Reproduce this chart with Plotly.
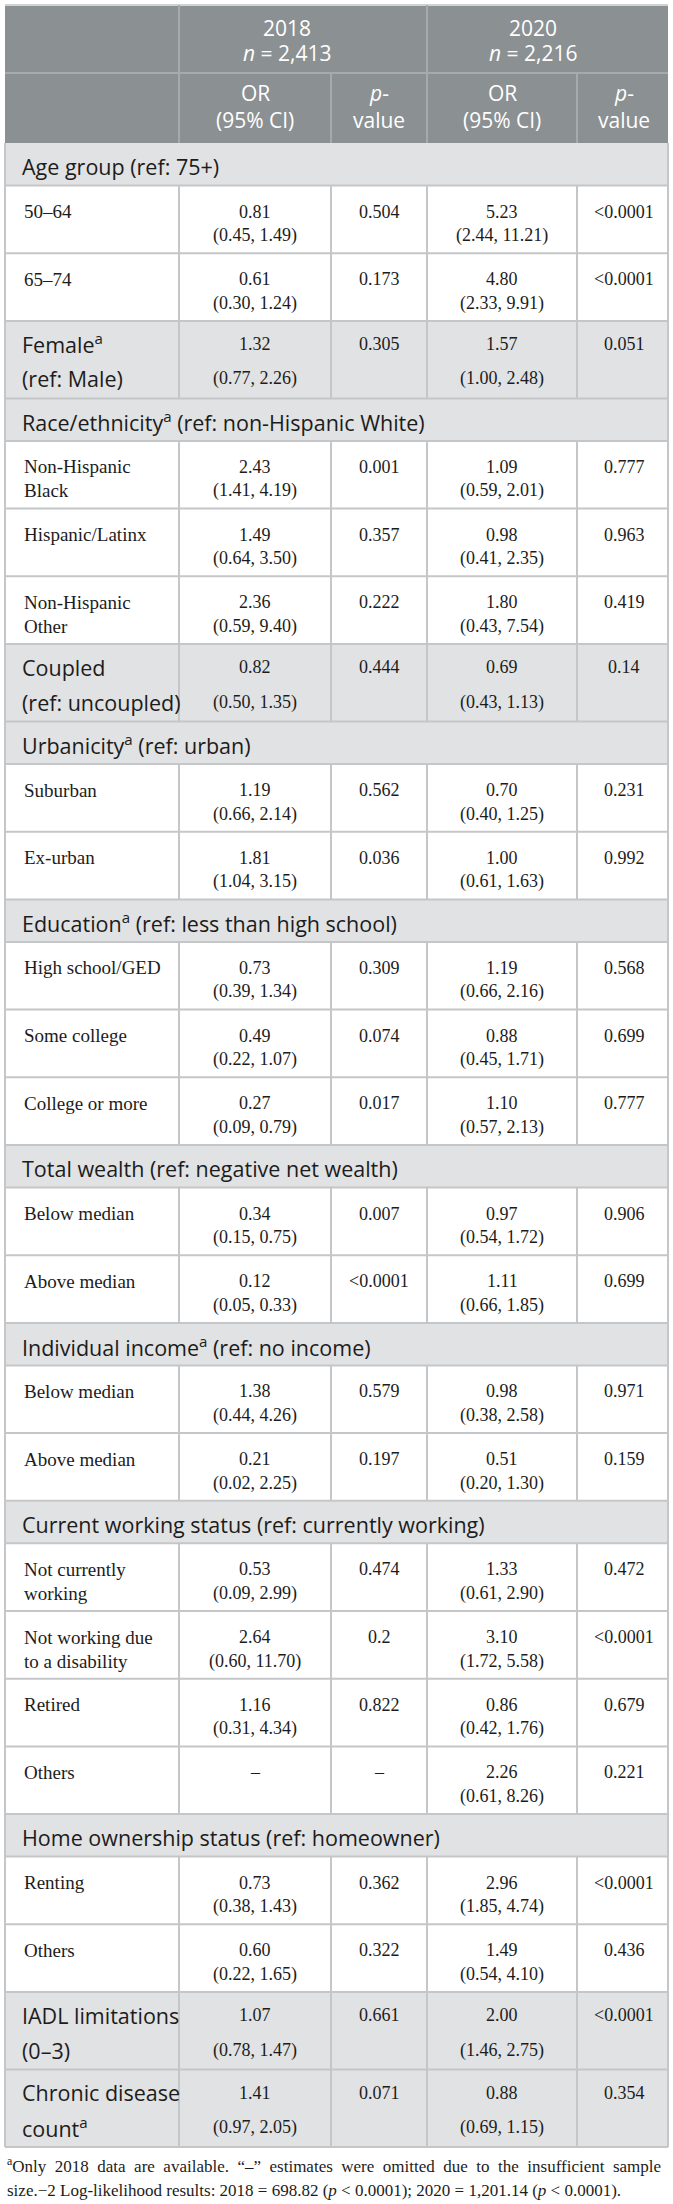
import plotly.graph_objects as go

# table content
row_kinds = ['section', 'item', 'item', 'main',
             'section', 'item', 'item', 'item', 'main',
             'section', 'item', 'item',
             'section', 'item', 'item', 'item',
             'section', 'item', 'item',
             'section', 'item', 'item',
             'section', 'item', 'item', 'item', 'item',
             'section', 'item', 'item',
             'main', 'main']

row_labels = [
    'Age group (ref: 75+)', '50–64', '65–74', 'Female<sup>a</sup><br>(ref: Male)',
    'Race/ethnicity<sup>a</sup> (ref: non-Hispanic White)', 'Non-Hispanic<br>Black',
    'Hispanic/Latinx', 'Non-Hispanic<br>Other', 'Coupled<br>(ref: uncoupled)',
    'Urbanicity<sup>a</sup> (ref: urban)', 'Suburban', 'Ex-urban',
    'Education<sup>a</sup> (ref: less than high school)', 'High school/GED',
    'Some college', 'College or more',
    'Total wealth (ref: negative net wealth)', 'Below median', 'Above median',
    'Individual income<sup>a</sup> (ref: no income)', 'Below median', 'Above median',
    'Current working status (ref: currently working)', 'Not currently<br>working',
    'Not working due<br>to a disability', 'Retired', 'Others',
    'Home ownership status (ref: homeowner)', 'Renting', 'Others',
    'IADL limitations<br>(0–3)', 'Chronic disease<br>count<sup>a</sup>',
]

or_2018 = [None, '0.81', '0.61', '1.32',
           None, '2.43', '1.49', '2.36', '0.82',
           None, '1.19', '1.81',
           None, '0.73', '0.49', '0.27',
           None, '0.34', '0.12',
           None, '1.38', '0.21',
           None, '0.53', '2.64', '1.16', '–',
           None, '0.73', '0.60',
           '1.07', '1.41']
ci_2018 = [None, '(0.45, 1.49)', '(0.30, 1.24)', '(0.77, 2.26)',
           None, '(1.41, 4.19)', '(0.64, 3.50)', '(0.59, 9.40)', '(0.50, 1.35)',
           None, '(0.66, 2.14)', '(1.04, 3.15)',
           None, '(0.39, 1.34)', '(0.22, 1.07)', '(0.09, 0.79)',
           None, '(0.15, 0.75)', '(0.05, 0.33)',
           None, '(0.44, 4.26)', '(0.02, 2.25)',
           None, '(0.09, 2.99)', '(0.60, 11.70)', '(0.31, 4.34)', '',
           None, '(0.38, 1.43)', '(0.22, 1.65)',
           '(0.78, 1.47)', '(0.97, 2.05)']
p_2018 = [None, '0.504', '0.173', '0.305',
          None, '0.001', '0.357', '0.222', '0.444',
          None, '0.562', '0.036',
          None, '0.309', '0.074', '0.017',
          None, '0.007', '&lt;0.0001',
          None, '0.579', '0.197',
          None, '0.474', '0.2', '0.822', '–',
          None, '0.362', '0.322',
          '0.661', '0.071']

or_2020 = [None, '5.23', '4.80', '1.57',
           None, '1.09', '0.98', '1.80', '0.69',
           None, '0.70', '1.00',
           None, '1.19', '0.88', '1.10',
           None, '0.97', '1.11',
           None, '0.98', '0.51',
           None, '1.33', '3.10', '0.86', '2.26',
           None, '2.96', '1.49',
           '2.00', '0.88']
ci_2020 = [None, '(2.44, 11.21)', '(2.33, 9.91)', '(1.00, 2.48)',
           None, '(0.59, 2.01)', '(0.41, 2.35)', '(0.43, 7.54)', '(0.43, 1.13)',
           None, '(0.40, 1.25)', '(0.61, 1.63)',
           None, '(0.66, 2.16)', '(0.45, 1.71)', '(0.57, 2.13)',
           None, '(0.54, 1.72)', '(0.66, 1.85)',
           None, '(0.38, 2.58)', '(0.20, 1.30)',
           None, '(0.61, 2.90)', '(1.72, 5.58)', '(0.42, 1.76)', '(0.61, 8.26)',
           None, '(1.85, 4.74)', '(0.54, 4.10)',
           '(1.46, 2.75)', '(0.69, 1.15)']
p_2020 = [None, '&lt;0.0001', '&lt;0.0001', '0.051',
          None, '0.777', '0.963', '0.419', '0.14',
          None, '0.231', '0.992',
          None, '0.568', '0.699', '0.777',
          None, '0.906', '0.699',
          None, '0.971', '0.159',
          None, '0.472', '&lt;0.0001', '0.679', '0.221',
          None, '&lt;0.0001', '0.436',
          '&lt;0.0001', '0.354']

years = ['2018', '2020']
sample_n = ['2,413', '2,216']

footnote = [
    '<sup>a</sup>Only 2018 data are available. “–” estimates were omitted due to the insufficient sample',
    'size.−2 Log-likelihood results: 2018 = 698.82 (<i>p</i> &lt; 0.0001); 2020 = 1,201.14 (<i>p</i> &lt; 0.0001).',
]

# layout constants
W, H = 673, 2204
edges = [5, 179, 331, 427, 577, 668]
centers = [255, 379, 502, 624]
top = 5
h_head1, h_head2 = 68, 70
heights = {'section': 42.5, 'item': 67.7, 'main': 77.5}

HEAD_BG = '#8b9092'
HEAD_LINE = '#a6aaac'
GREY_BG = '#e1e2e3'
LINE = '#c5c6c7'
TXT = '#1c1c1c'
SANS = 'Open Sans'
SERIF = 'Liberation Serif'

fig = go.Figure()
shapes = []
ann = []


def text(x, y, s, font, size, color=TXT, anchor='center'):
    ann.append(dict(x=x, y=y, xref='x', yref='y', text=s, showarrow=False,
                    xanchor=anchor, yanchor='middle',
                    font=dict(family=font, size=size, color=color)))


def line(x0, y0, x1, y1, color=LINE, w=2):
    shapes.append(dict(type='line', x0=x0, y0=y0, x1=x1, y1=y1, xref='x', yref='y',
                       line=dict(color=color, width=w), layer='above'))


def rect(x0, y0, x1, y1, color):
    shapes.append(dict(type='rect', x0=x0, y0=y0, x1=x1, y1=y1, xref='x', yref='y',
                       fillcolor=color, line=dict(width=0), layer='below'))


# header
y1 = top + h_head1
y2 = y1 + h_head2
rect(edges[0], top, edges[-1], y2, HEAD_BG)
line(edges[0], top, edges[-1], top, '#d0d2d3')
line(edges[0], y1, edges[-1], y1, HEAD_LINE)
line(edges[1], top, edges[1], y2, HEAD_LINE)
line(edges[3], top, edges[3], y2, HEAD_LINE)
line(edges[2], y1, edges[2], y2, HEAD_LINE)
line(edges[4], y1, edges[4], y2, HEAD_LINE)
for k, xc in enumerate([287, 533]):
    text(xc, top + 23, years[k], SANS, 21, 'white')
    text(xc, top + 48, '<i>n</i> = ' + sample_n[k], SANS, 21, 'white')
for k in range(4):
    if k % 2 == 0:
        l1, l2 = 'OR', '(95% CI)'
    else:
        l1, l2 = '<i>p</i>-', 'value'
    text(centers[k], y1 + 20, l1, SANS, 21, 'white')
    text(centers[k], y1 + 47, l2, SANS, 21, 'white')

# body
y = y2
for i, kind in enumerate(row_kinds):
    h = heights[kind]
    yb = y + h
    if kind == 'section':
        rect(edges[0], y, edges[-1], yb, GREY_BG)
        text(20, y + h / 2 + 2, row_labels[i], SANS, 21.5, anchor='left')
    else:
        if kind == 'main':
            rect(edges[0], y, edges[-1], yb, GREY_BG)
            d1, d2 = 23, 58
            font, lx, lsize = SANS, 20, 21.5
        else:
            d1, d2 = 26, 50
            font, lx, lsize = SERIF, 22, 19
        for e in edges[1:-1]:
            line(e, y, e, yb)
        for j, s in enumerate(row_labels[i].split('<br>')):
            text(lx, y + (d1 if j == 0 else d2), s, font, lsize, anchor='left')
        vals = [(or_2018[i], ci_2018[i]), (p_2018[i], ''),
                (or_2020[i], ci_2020[i]), (p_2020[i], '')]
        for k, (a, b) in enumerate(vals):
            text(centers[k], y + d1, a, SERIF, 18)
            if b:
                text(centers[k], y + d2, b, SERIF, 18)
    line(edges[0], yb, edges[-1], yb)
    y = yb

# outer border of body
line(edges[0], y2, edges[0], y)
line(edges[-1], y2, edges[-1], y)

# footnote, first line spread out to mimic the justified text
text(edges[0], y + 18, footnote[0].replace(' ', '\u00a0 '), SERIF, 17, anchor='left')
text(edges[0], y + 43, footnote[1], SERIF, 17, anchor='left')

fig.update_layout(width=W, height=H, margin=dict(l=0, r=0, t=0, b=0),
                  paper_bgcolor='white', plot_bgcolor='white',
                  shapes=shapes, annotations=ann, showlegend=False)
fig.update_xaxes(range=[0, W], visible=False, fixedrange=True)
fig.update_yaxes(range=[H, 0], visible=False, fixedrange=True)

fig.write_html('out.html', config={'displayModeBar': False},
               post_script="document.body.style.margin='0';")
